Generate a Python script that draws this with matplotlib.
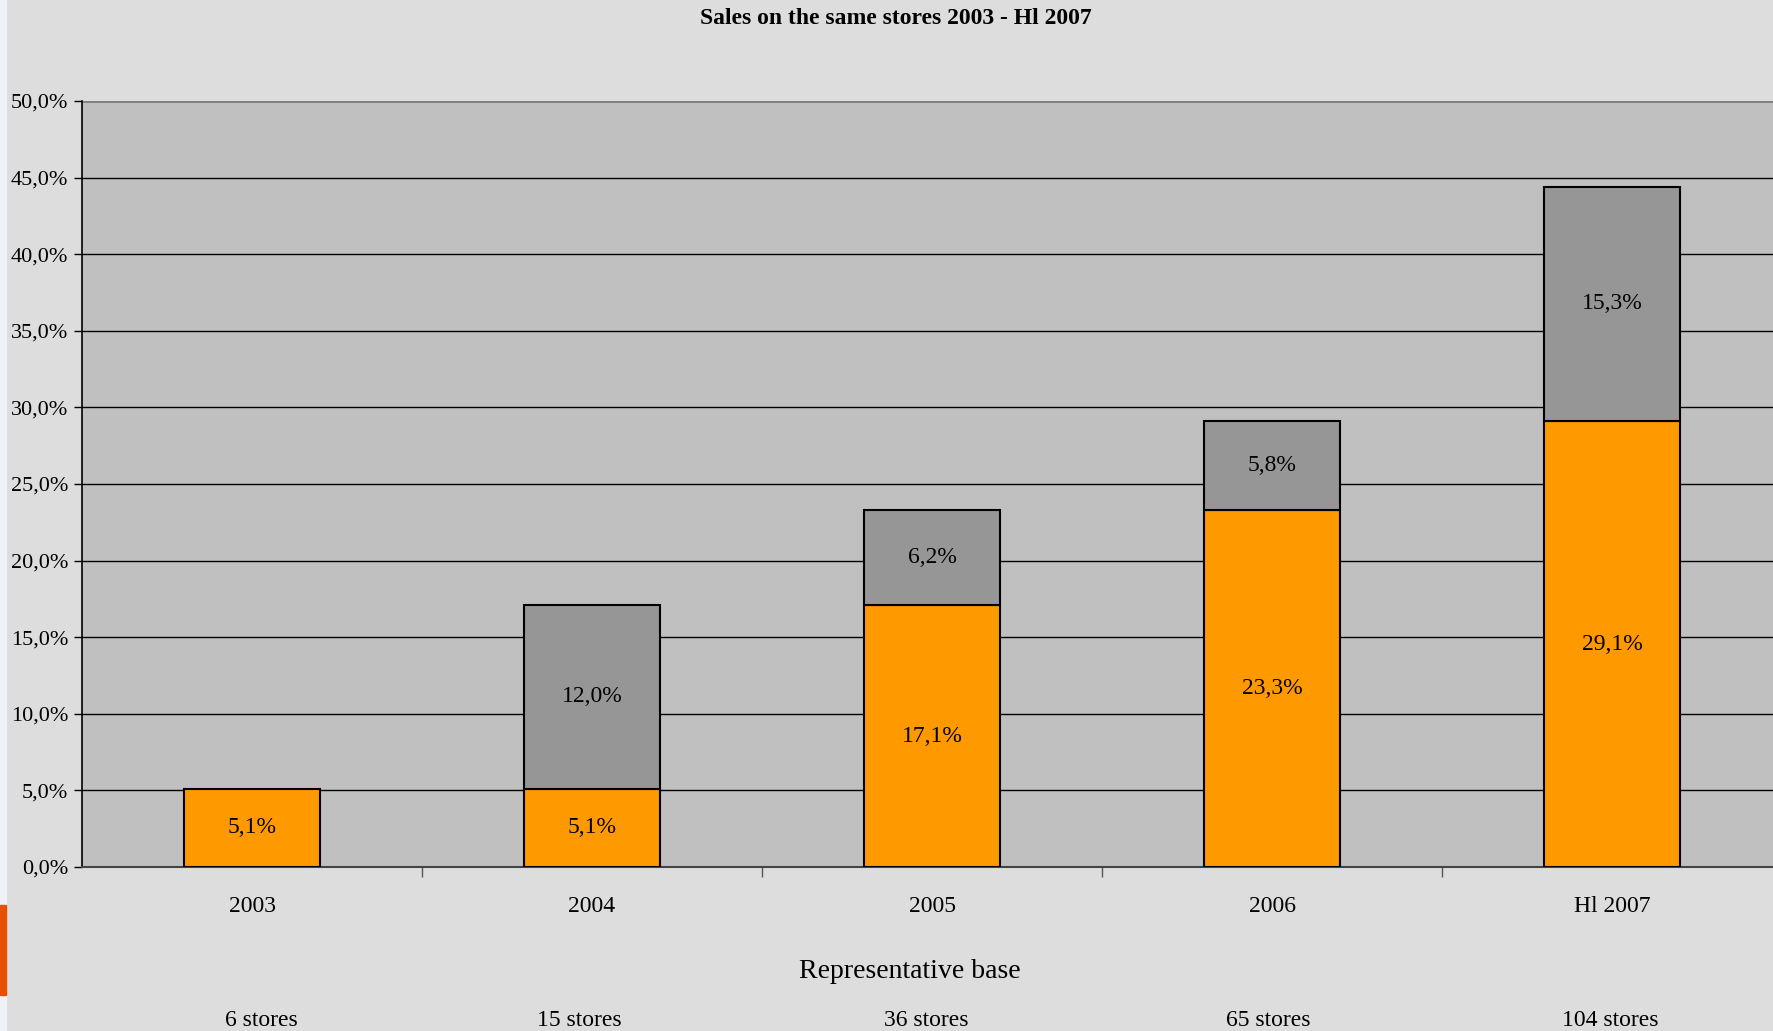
import matplotlib.pyplot as plt
from matplotlib.patches import Rectangle

periods = ['2003', '2004', '2005', '2006', 'Hl 2007']
stores = ['6 stores', '15 stores', '36 stores', '65 stores', '104 stores']
base_growth = [5.1, 5.1, 17.1, 23.3, 29.1]
extra_growth = [0.0, 12.0, 6.2, 5.8, 15.3]
yticks = [0, 5, 10, 15, 20, 25, 30, 35, 40, 45, 50]

W, H = 1773, 1031
plt.rcParams['font.family'] = ['Liberation Serif', 'DejaVu Serif']

fig = plt.figure(figsize=(W / 100, H / 100), dpi=100, facecolor='#dddddd')
# thin strip on the left edge
fig.patches.append(Rectangle((0, 0), 6 / W, 1, transform=fig.transFigure,
                             color='#eef1f6', zorder=0))
fig.patches.append(Rectangle((0, 1 - 995 / H), 6 / W, 90 / H, transform=fig.transFigure,
                             color='#e65000', zorder=0))

ax = fig.add_axes([82 / W, 1 - 867 / H, 1700 / W, 766 / H])
ax.set_facecolor('#c0c0c0')

x = range(len(periods))
ax.bar(x, base_growth, width=0.4, color='#ff9900', edgecolor='black', linewidth=1.5, zorder=3)
for i in x:
    if extra_growth[i] > 0:
        ax.bar(i, extra_growth[i], bottom=base_growth[i], width=0.4, color='#969696',
               edgecolor='black', linewidth=1.5, zorder=3)

for i in x:
    ax.text(i, base_growth[i] / 2, f'{base_growth[i]:.1f}%'.replace('.', ','),
            ha='center', va='center', fontsize=17, zorder=4)
    if extra_growth[i] > 0:
        ax.text(i, base_growth[i] + extra_growth[i] / 2, f'{extra_growth[i]:.1f}%'.replace('.', ','),
                ha='center', va='center', fontsize=17, zorder=4)

ax.set_xlim(-0.5, 4.5)
ax.set_ylim(0, 50)
ax.set_yticks(yticks)
ax.set_yticklabels([f'{v:.1f}%'.replace('.', ',') for v in yticks], fontsize=16)
ax.yaxis.grid(True, color='black', linewidth=1, zorder=1)
ax.tick_params(axis='y', length=6, width=1, pad=4)

ax.set_xticks([i + 0.5 for i in range(4)])
ax.set_xticklabels([])
ax.tick_params(axis='x', length=7, width=1, color='#555555')
for i, p in enumerate(periods):
    ax.text(i, -2.55, p, ha='center', va='center', fontsize=17)

for s in ['top', 'right']:
    ax.spines[s].set_visible(False)
ax.axhline(50, color='#808080', linewidth=2, zorder=2)
ax.spines['left'].set_linewidth(1.2)
ax.spines['bottom'].set_color('#444444')
ax.spines['bottom'].set_linewidth(1.5)

fig.text(896 / W, 1 - 19 / H, 'Sales on the same stores 2003 - Hl 2007',
         ha='center', va='center', fontsize=17, fontweight='bold')
fig.text(910 / W, 1 - 972 / H, 'Representative base', ha='center', va='center', fontsize=20)
store_x = [261, 579, 926, 1268, 1610]
for sx, s in zip(store_x, stores):
    fig.text(sx / W, 1 - 1020 / H, s, ha='center', va='center', fontsize=17)

fig.savefig('out.png', dpi=100, facecolor=fig.get_facecolor())
